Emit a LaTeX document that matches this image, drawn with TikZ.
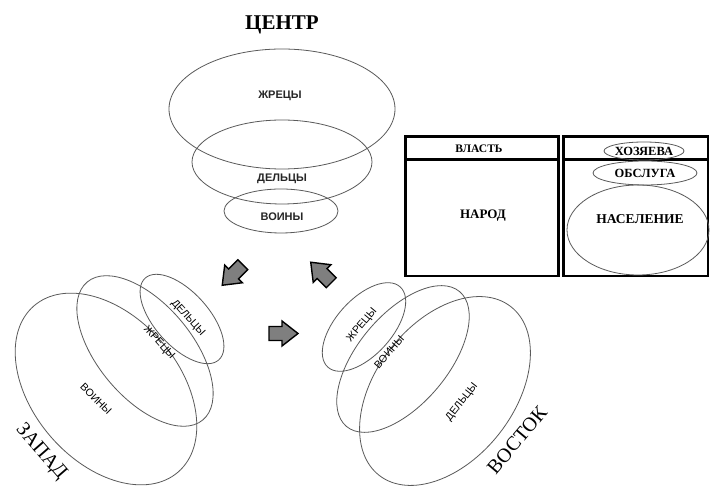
\documentclass[tikz,border=0pt]{standalone}
\usepackage{fontspec}
\setmainfont{Liberation Serif}
\newfontfamily\lblfont{Liberation Sans}
\usetikzlibrary{shapes.geometric}
\definecolor{ellgray}{HTML}{5A5A5A}
\definecolor{arrgray}{HTML}{7F7F7F}
\tikzset{
  ell/.style={draw=ellgray, line width=0.8pt},
  inlbl/.style={font=\lblfont\fontsize{10.5}{12}\selectfont, text=black, inner sep=0pt},
  cenlbl/.style={font=\lblfont\bfseries\fontsize{11}{13}\selectfont, text=black!85, inner sep=0pt},
  bigttl/.style={font=\fontsize{20}{23}\selectfont, inner sep=0pt},
  tbltxt/.style={font=\bfseries\fontsize{12.5}{14}\selectfont, inner sep=0pt},
  tblbox/.style={draw=black, line width=2.6pt},
  blockarrow/.pic={\draw[fill=arrgray, draw=black, line width=1.4pt, line join=miter]
     (-14.5,-7) -- (-1.5,-7) -- (-1.5,-12.5) -- (14.5,0) -- (-1.5,12.5) -- (-1.5,7) -- (-14.5,7) -- cycle;}
}
\begin{document}
\begin{tikzpicture}[x=1pt,y=1pt]
\useasboundingbox (0,0) rectangle (710,486);
\fill[white] (0,0) rectangle (710,486);

% ---- CENTRE ----
\node[bigttl, font=\bfseries\fontsize{21}{24}\selectfont] (centr) at (282,461) {ЦЕНТР};
\draw[ell] (282,377) ellipse [x radius=113pt, y radius=60pt];
\draw[ell] (282,324) ellipse [x radius=90pt, y radius=42pt];
\draw[ell] (281,275) ellipse [x radius=57pt, y radius=22pt];
\node[cenlbl] (cz) at (280,390) {ЖРЕЦЫ};
\node[cenlbl] (cd) at (282,307) {ДЕЛЬЦЫ};
\node[cenlbl] (cv) at (282,269) {ВОИНЫ};

% ---- TABLE ----
\draw[tblbox] (405.5,210) rectangle (558.7,349.5);
\draw[tblbox] (405.5,326.5) -- (558.7,326.5);
\draw[tblbox] (563.7,210) rectangle (708,349.5);
\draw[tblbox] (563.7,326.5) -- (708,326.5);
\node[tbltxt, font=\bfseries\fontsize{11.5}{13}\selectfont] (vlast) at (479,337) {ВЛАСТЬ};
\node[tbltxt, font=\bfseries\fontsize{13}{15}\selectfont] (narod) at (483,270) {НАРОД};
\draw[ell] (644,335) ellipse [x radius=40pt, y radius=9pt];
\draw[ell] (645,313) ellipse [x radius=52pt, y radius=12pt];
\draw[ell] (638,256) ellipse [x radius=71pt, y radius=45pt];
\node[tbltxt] (hoz) at (644,335) {ХОЗЯЕВА};
\node[tbltxt] (obs) at (645,313) {ОБСЛУГА};
\node[tbltxt, font=\bfseries\fontsize{13.5}{15}\selectfont] (nas) at (640,267) {НАСЕЛЕНИЕ};

% ---- ARROWS ----
\pic[rotate=225] (arrA) at (232.5,211) {blockarrow};
\pic[rotate=135] (arrB) at (321,213.5) {blockarrow};
\pic (arrC) at (283.5,152.5) {blockarrow};

% ---- WEST ----
\draw[ell, rotate around={-49:(106,97)}] (106,97) ellipse [x radius=110pt, y radius=73pt];
\draw[ell, rotate around={-50:(145,135)}] (145,135) ellipse [x radius=90pt, y radius=47pt];
\draw[ell, rotate around={-48:(182,167)}] (182,167) ellipse [x radius=55pt, y radius=27pt];
\node[inlbl, rotate=-48] (wd) at (188,168) {ДЕЛЬЦЫ};
\node[inlbl, rotate=-48] (wz) at (159,143) {ЖРЕЦЫ};
\node[inlbl, rotate=-45] (wv) at (96,87) {ВОИНЫ};
\node[bigttl, rotate=-49] (zapad) at (41,34) {ЗАПАД};

% ---- EAST ----
\draw[ell, rotate around={48:(364,159)}] (364,159) ellipse [x radius=54pt, y radius=28pt];
\draw[ell, rotate around={50:(403,127)}] (403,127) ellipse [x radius=88pt, y radius=45pt];
\draw[ell, rotate around={52:(445,95)}] (445,95) ellipse [x radius=107pt, y radius=69pt];
\node[inlbl, rotate=50] (ez) at (362,161) {ЖРЕЦЫ};
\node[inlbl, rotate=49] (ev) at (389,134) {ВОИНЫ};
\node[inlbl, rotate=52] (ed) at (462,84) {ДЕЛЬЦЫ};
\node[bigttl, rotate=50] (vostok) at (517,46) {ВОСТОК};
\end{tikzpicture}
\end{document}
